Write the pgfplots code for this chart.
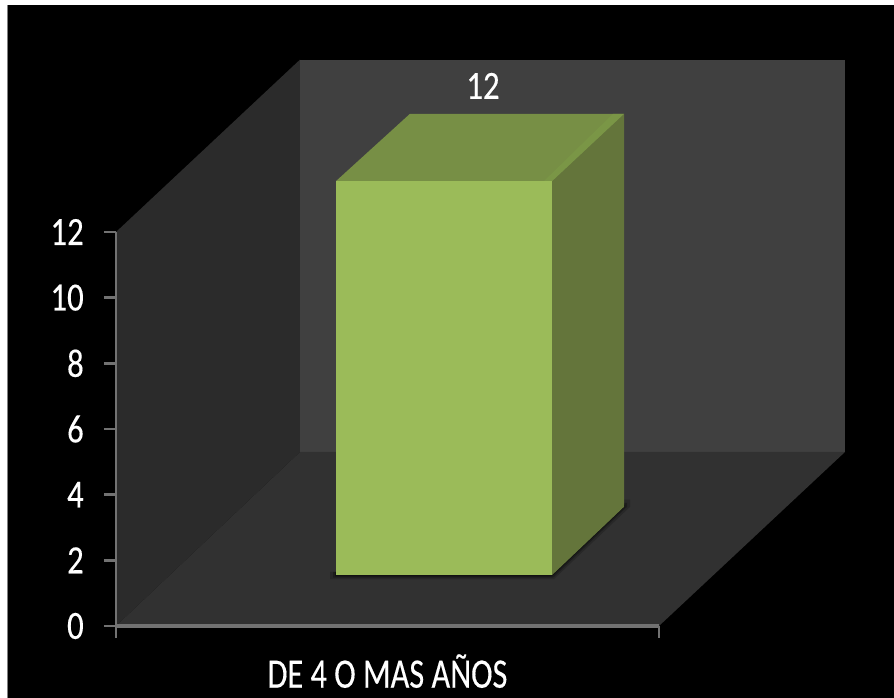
\documentclass[border=0pt]{standalone}
\usepackage{fontspec}
\setmainfont{Carlito}
\newfontfamily\labelfont{Carlito}[FakeBold=0.3]
\usepackage{pgfplots}
\pgfplotsset{compat=1.18}
\definecolor{wallback}{HTML}{404040}
\definecolor{wallside}{HTML}{2B2B2B}
\definecolor{floorc}{HTML}{313131}
\definecolor{axisc}{HTML}{727272}
\definecolor{barfront}{HTML}{9BBB59}
\definecolor{bartop}{HTML}{778F45}
\definecolor{barband}{HTML}{7A9646}
\definecolor{barside}{HTML}{64753B}
\newcommand{\tl}[1]{\scalebox{0.82}[1]{#1}}
\newcommand{\xl}[1]{\scalebox{0.77}[1]{#1}}
\begin{document}
\begin{tikzpicture}
\path[use as bounding box] (0pt,0pt) rectangle (670.5pt,523.5pt);
\fill[white] (0pt,0pt) rectangle (670.5pt,523.5pt);
\fill[black] (6pt,0pt) rectangle (670.5pt,519.75pt);
\draw[gray,line width=0.75pt] (5.6pt,0pt) -- (5.6pt,519.75pt);
\begin{axis}[
  at={(87pt,54pt)}, anchor=origin,
  scale only axis, width=407.25pt, height=295.5pt,
  xmin=0, xmax=543, ymin=0, ymax=12,
  clip=false,
  axis line style={draw=none},
  axis x line=bottom, axis y line=left,
  x axis line style={-}, y axis line style={-},
  xtick={0,543}, xticklabels={},
  extra x ticks={271.5},
  extra x tick labels={\xl{DE 4 O MAS AÑOS}},
  extra x tick style={major tick length=0pt,
    tick label style={yshift=-18pt, font=\labelfont\fontsize{31.5}{34}\selectfont}},
  ytick={0,2,4,6,8,10,12},
  yticklabel={\tl{\pgfmathprintnumber{\tick}}},
  tick align=outside,
  major tick length=9pt,
  tick style={draw=axisc, line width=1.8pt},
  tick label style={text=white, font=\labelfont\fontsize{30}{32}\selectfont},
  y tick label style={xshift=-12pt},
  /pgf/number format/assume math mode=true,
  xtick pos=bottom, ytick pos=left,
  tick label style={inner sep=3pt},
]
% side wall, floor and back wall of the plot box
\addplot[fill=wallside, draw=none] coordinates {(0,0) (184,5.30) (184,17.25) (0,12)} -- cycle;
\addplot[fill=wallback, draw=none] coordinates {(184,5.30) (729,5.30) (729,17.25) (184,17.25)} -- cycle;
\addplot[fill=floorc, draw=none] coordinates {(0,0) (543,0) (729,5.30) (184,5.30)} -- cycle;
% axis lines on top of the walls
\addplot[draw=axisc, line width=2pt] coordinates {(0,0) (0,12)};
\addplot[draw=axisc, line width=2.6pt] coordinates {(0,0) (543,0)};
% soft shadow under the bar, built from stacked translucent layers
\addplot[fill=black, fill opacity=0.18, draw=none] coordinates {(214,1.65) (214,1.43) (438,1.43) (514,3.63) (514,3.85) (508,3.85) (436,1.65)} -- cycle;
\addplot[fill=black, fill opacity=0.25, draw=none] coordinates {(217,1.65) (217,1.47) (437,1.47) (511,3.63) (511,3.75) (508,3.75) (436,1.65)} -- cycle;
\addplot[fill=black, fill opacity=0.35, draw=none] coordinates {(219,1.65) (219,1.51) (436,1.51) (509,3.63) (509,3.70) (508,3.70) (436,1.65)} -- cycle;
% the bar: side, top, front
\addplot[fill=barside, draw=none] coordinates {(436,1.55) (508,3.63) (508,15.60) (436,13.55)} -- cycle;
\addplot[fill=bartop, draw=none] coordinates {(220,13.55) (436,13.55) (508,15.60) (294,15.60)} -- cycle;
\addplot[fill=barband, draw=none] coordinates {(436,13.55) (508,15.60) (497,15.60) (428,13.55)} -- cycle;
\addplot[fill=barfront, draw=none] coordinates {(220,1.55) (436,1.55) (436,13.55) (220,13.55)} -- cycle;
% value label
\addplot[draw=none, point meta=explicit, nodes near coords,
  nodes near coords style={text=white, font=\labelfont\fontsize{30}{32}\selectfont, anchor=center,
  /pgf/number format/assume math mode=true},
  nodes near coords={\tl{\pgfmathprintnumber{\pgfplotspointmeta}}}]
  coordinates {(367,16.45) [12]};
\end{axis}
\end{tikzpicture}
\end{document}
